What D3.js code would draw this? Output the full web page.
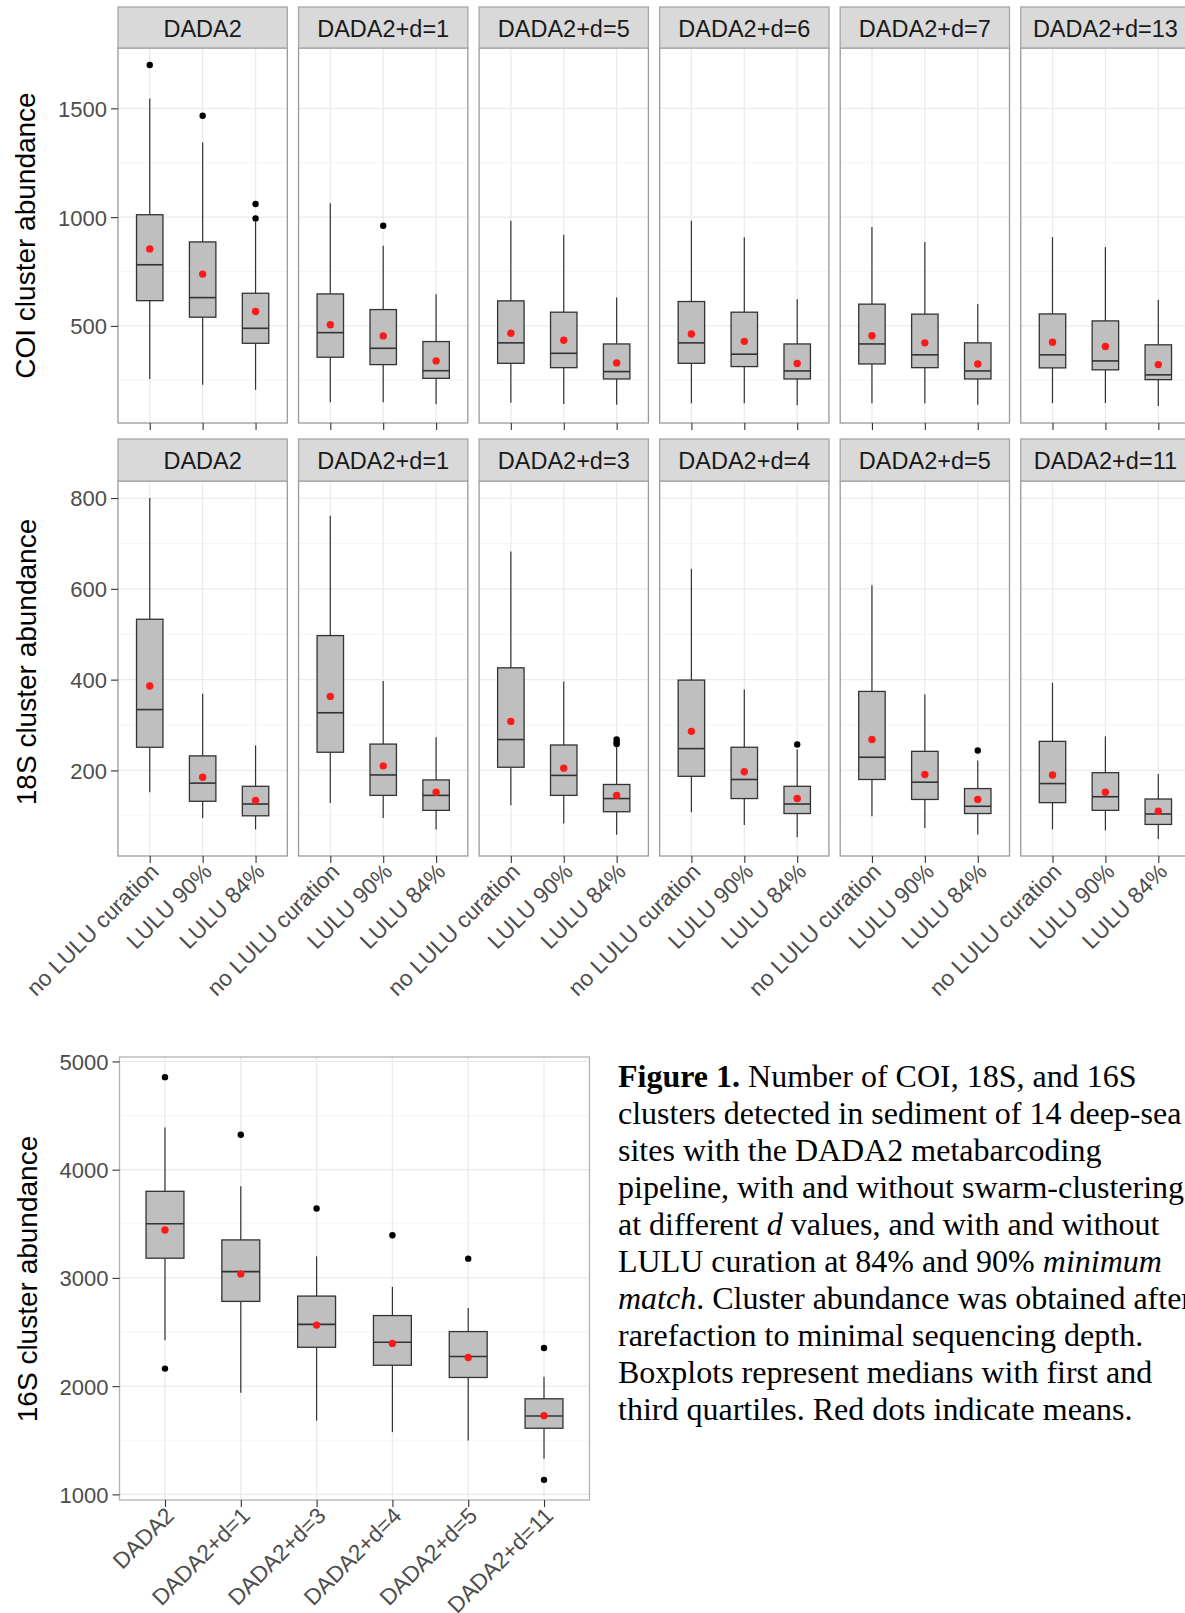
<!DOCTYPE html>
<html>
<head>
<meta charset="utf-8">
<script src="https://cdn.jsdelivr.net/npm/d3@7"></script>
<style>
  body { margin: 0; background: #fff; }
  svg { display: block; font-family: "Liberation Sans", Arial, sans-serif; }
</style>
</head>
<body>
<div class="canvas"></div>
<script>
// ---- data ----
// box tuples: [lower whisker, Q1, median, Q3, upper whisker, mean]
const luluLevels = ["no LULU curation", "LULU 90%", "LULU 84%"];

const coiFacets = ["DADA2", "DADA2+d=1", "DADA2+d=5", "DADA2+d=6", "DADA2+d=7", "DADA2+d=13"];
const coiStats = [
  [[256, 616, 781, 1011, 1545, 854], [229, 540, 630, 886, 1343, 738], [206, 420, 489, 650, 980, 566]],
  [[149, 356, 469, 647, 1064, 505], [149, 322, 397, 575, 868, 454], [140, 259, 294, 428, 646, 339]],
  [[147, 328, 422, 615, 983, 466], [141, 308, 374, 563, 919, 434], [137, 256, 290, 417, 630, 330]],
  [[145, 328, 422, 612, 983, 463], [145, 313, 370, 563, 908, 429], [135, 256, 293, 417, 623, 327]],
  [[145, 325, 417, 600, 954, 455], [145, 308, 367, 554, 886, 422], [137, 256, 293, 422, 601, 325]],
  [[145, 307, 367, 555, 908, 425], [145, 298, 339, 523, 862, 405], [132, 253, 275, 413, 620, 322]]
];
const coiOutliers = [
  [[1699], [1466], [1060, 994]],
  [[], [960], []],
  [[], [], []],
  [[], [], []],
  [[], [], []],
  [[], [], []]
];
const coiTicks = [500, 1000, 1500];

const s18Facets = ["DADA2", "DADA2+d=1", "DADA2+d=3", "DADA2+d=4", "DADA2+d=5", "DADA2+d=11"];
const s18Stats = [
  [[152, 251, 334, 533, 800, 386], [95, 132, 172, 232, 369, 185], [70, 100, 126, 165, 255, 134]],
  [[128, 240, 327, 497, 761, 363], [95, 145, 190, 258, 397, 210], [70, 112, 145, 179, 273, 152]],
  [[123, 207, 268, 426, 682, 308], [83, 145, 189, 256, 396, 205], [58, 109, 138, 169, 251, 145]],
  [[108, 187, 248, 399, 644, 286], [80, 138, 180, 251, 378, 197], [53, 105, 126, 165, 246, 138]],
  [[99, 180, 229, 374, 608, 268], [73, 136, 174, 242, 367, 191], [59, 105, 121, 160, 222, 136]],
  [[70, 129, 171, 264, 393, 190], [68, 112, 142, 195, 275, 152], [49, 81, 104, 137, 192, 110]]
];
const s18Outliers = [
  [[], [], []],
  [[], [], []],
  [[], [], [268, 262, 258]],
  [[], [], [257]],
  [[], [], [244]],
  [[], [], []]
];
const s18Ticks = [200, 400, 600, 800];

const s16Groups = ["DADA2", "DADA2+d=1", "DADA2+d=3", "DADA2+d=4", "DADA2+d=5", "DADA2+d=11"];
const s16Stats = [
  [2423, 3182, 3500, 3800, 4389, 3443],
  [1939, 2783, 3058, 3351, 3846, 3037],
  [1681, 2359, 2571, 2832, 3199, 2564],
  [1575, 2193, 2405, 2652, 2917, 2395],
  [1498, 2080, 2274, 2504, 2723, 2264],
  [1328, 1611, 1724, 1883, 2087, 1727]
];
const s16Outliers = [[4855, 2162], [4322], [3641], [3394], [3178], [2352, 1134]];
const s16Ticks = [1000, 2000, 3000, 4000, 5000];

const captionLines = [
  [["Figure 1.", "b"], [" Number of COI, 18S, and 16S", ""]],
  [["clusters detected in sediment of 14 deep-sea", ""]],
  [["sites with the DADA2 metabarcoding", ""]],
  [["pipeline, with and without swarm-clustering", ""]],
  [["at different ", ""], ["d", "i"], [" values, and with and without", ""]],
  [["LULU curation at 84% and 90% ", ""], ["minimum", "i"]],
  [["match", "i"], [". Cluster abundance was obtained after", ""]],
  [["rarefaction to minimal sequencing depth.", ""]],
  [["Boxplots represent medians with first and", ""]],
  [["third quartiles. Red dots indicate means.", ""]]
];

// ---- layout ----
var width = 1185;
var height = 1613;
var panelX0 = 118;
var panelStep = 180.55;
var panelW = 169.3;
var yTickFont = "22px";
var xTickFont = "22.6px";
var gridMajor = "#ebebeb";
var gridMinor = "#f4f4f4";

var svg = d3
  .select(".canvas")
  .append("svg")
  .attr("width", width)
  .attr("height", height);

svg.append("rect").attr("width", width).attr("height", height).attr("fill", "#fff");

// ggplot-like continuous range: data extent + 5% each side
function expandedDomain(stats, outliers) {
  var vals = stats.flat(2).concat(outliers.flat(2));
  var ext = d3.extent(vals);
  var pad = (ext[1] - ext[0]) * 0.05;
  return [ext[0] - pad, ext[1] + pad];
}

function drawPanel(cfg) {
  var g = svg.append("g").attr("transform", `translate(${cfg.x0}, ${cfg.y0})`);
  var w = cfg.w, h = cfg.h;
  var x = d3.scalePoint().domain(cfg.cats).range([0, w]).padding(0.6);
  var y = d3.scaleLinear().domain(cfg.domain).range([h, 0]);
  var bw = x.step() * 0.5;

  /* grid */
  var minor = d3.pairs(cfg.ticks).map((p) => (p[0] + p[1]) / 2);
  var step = cfg.ticks[1] - cfg.ticks[0];
  minor.unshift(cfg.ticks[0] - step / 2);
  minor.push(cfg.ticks[cfg.ticks.length - 1] + step / 2);
  minor = minor.filter((v) => v > cfg.domain[0] && v < cfg.domain[1]);
  g.selectAll(".minor").data(minor).enter().append("line")
    .attr("x1", 0).attr("x2", w)
    .attr("y1", (d) => y(d)).attr("y2", (d) => y(d))
    .attr("stroke", gridMinor).attr("stroke-width", 0.8);
  g.selectAll(".major").data(cfg.ticks).enter().append("line")
    .attr("x1", 0).attr("x2", w)
    .attr("y1", (d) => y(d)).attr("y2", (d) => y(d))
    .attr("stroke", gridMajor).attr("stroke-width", 1.3);
  g.selectAll(".vgrid").data(cfg.cats).enter().append("line")
    .attr("x1", (d) => x(d)).attr("x2", (d) => x(d))
    .attr("y1", 0).attr("y2", h)
    .attr("stroke", gridMajor).attr("stroke-width", 1.3);

  /* boxes */
  var boxes = g.selectAll(".box").data(cfg.stats).enter().append("g")
    .attr("transform", (d, i) => `translate(${x(cfg.cats[i])}, 0)`);
  boxes.append("line")
    .attr("y1", (d) => y(d[0])).attr("y2", (d) => y(d[1]))
    .attr("stroke", "#333").attr("stroke-width", 1.2);
  boxes.append("line")
    .attr("y1", (d) => y(d[3])).attr("y2", (d) => y(d[4]))
    .attr("stroke", "#333").attr("stroke-width", 1.2);
  boxes.append("rect")
    .attr("x", -bw / 2).attr("width", bw)
    .attr("y", (d) => y(d[3])).attr("height", (d) => y(d[1]) - y(d[3]))
    .attr("fill", "#bfbfbf").attr("stroke", "#333").attr("stroke-width", 1.3);
  boxes.append("line")
    .attr("x1", -bw / 2).attr("x2", bw / 2)
    .attr("y1", (d) => y(d[2])).attr("y2", (d) => y(d[2]))
    .attr("stroke", "#333").attr("stroke-width", 1.6);
  boxes.selectAll(".out").data((d, i) => cfg.outliers[i]).enter().append("circle")
    .attr("cy", (d) => y(d)).attr("r", 3.2).attr("fill", "#000");
  boxes.append("circle")
    .attr("cy", (d) => y(d[5])).attr("r", 3.7).attr("fill", "#ff1a1a");

  /* border */
  g.append("rect").attr("width", w).attr("height", h)
    .attr("fill", "none").attr("stroke", cfg.border).attr("stroke-width", 1.3);

  /* strip */
  if (cfg.strip) {
    var sh = cfg.stripH;
    g.append("rect").attr("y", -sh).attr("width", w).attr("height", sh)
      .attr("fill", "#d9d9d9").attr("stroke", "#a6a6a6").attr("stroke-width", 1.3);
    g.append("text").attr("x", w / 2).attr("y", -sh + 29.5)
      .attr("text-anchor", "middle").attr("font-size", "23.5px").attr("fill", "#1a1a1a")
      .text(cfg.strip);
  }

  /* x axis */
  var xa = g.append("g").attr("transform", `translate(0, ${h})`)
    .call(d3.axisBottom(x).tickSize(7).tickPadding(3));
  xa.select(".domain").remove();
  xa.selectAll("line").attr("stroke", "#333").attr("stroke-width", 1.1);
  if (cfg.xLabels) {
    xa.selectAll("text")
      .attr("x", 0).attr("y", 0).attr("dy", 0)
      .attr("transform", "translate(10, 17) rotate(-45)")
      .attr("text-anchor", "end")
      .attr("font-family", "Liberation Sans, Arial, sans-serif")
      .attr("font-size", xTickFont).attr("fill", "#4d4d4d");
  } else {
    xa.selectAll("text").remove();
  }

  /* y axis */
  if (cfg.yAxis) {
    var ya = g.append("g").call(
      d3.axisLeft(y).tickValues(cfg.ticks).tickFormat(d3.format("d")).tickSize(7).tickPadding(4)
    );
    ya.select(".domain").remove();
    ya.selectAll("line").attr("stroke", "#333").attr("stroke-width", 1.1);
    ya.selectAll("text")
      .attr("font-family", "Liberation Sans, Arial, sans-serif")
      .attr("font-size", yTickFont).attr("fill", "#4d4d4d").attr("dy", "0.36em");
    g.append("text")
      .attr("transform", `translate(${cfg.titleX - cfg.x0}, ${cfg.titleY - cfg.y0}) rotate(-90)`)
      .attr("text-anchor", "middle").attr("font-size", "28px").attr("fill", "#000")
      .text(cfg.title);
  }
}

/* COI row */
var coiDomain = expandedDomain(coiStats, coiOutliers);
coiFacets.forEach(function (f, i) {
  drawPanel({
    x0: panelX0 + i * panelStep, y0: 48, w: panelW, h: 375,
    cats: luluLevels, stats: coiStats[i], outliers: coiOutliers[i],
    domain: coiDomain, ticks: coiTicks, border: "#9a9a9a",
    strip: f, stripH: 41, xLabels: false, yAxis: i === 0,
    title: "COI cluster abundance", titleX: 35, titleY: 235.5
  });
});

/* 18S row */
var s18Domain = expandedDomain(s18Stats, s18Outliers);
s18Facets.forEach(function (f, i) {
  drawPanel({
    x0: panelX0 + i * panelStep, y0: 481, w: panelW, h: 375,
    cats: luluLevels, stats: s18Stats[i], outliers: s18Outliers[i],
    domain: s18Domain, ticks: s18Ticks, border: "#9a9a9a",
    strip: f, stripH: 42, xLabels: true, yAxis: i === 0,
    title: "18S cluster abundance", titleX: 36, titleY: 662
  });
});

/* 16S */
drawPanel({
  x0: 119.5, y0: 1057, w: 470, h: 443,
  cats: s16Groups, stats: s16Stats, outliers: s16Outliers,
  domain: expandedDomain(s16Stats, s16Outliers), ticks: s16Ticks, border: "#b3b3b3",
  strip: null, xLabels: true, yAxis: true,
  title: "16S cluster abundance", titleX: 37, titleY: 1279
});

/* caption */
var cap = svg.append("text")
  .attr("font-family", "Liberation Serif, Times New Roman, serif")
  .attr("font-size", "32px").attr("fill", "#000");
captionLines.forEach(function (line, li) {
  line.forEach(function (seg, si) {
    var t = cap.append("tspan").text(seg[0]);
    if (si === 0) t.attr("x", 618).attr("y", 1087 + li * 37);
    if (seg[1] === "b") t.attr("font-weight", "bold");
    if (seg[1] === "i") t.attr("font-style", "italic");
  });
});
</script>
</body>
</html>
